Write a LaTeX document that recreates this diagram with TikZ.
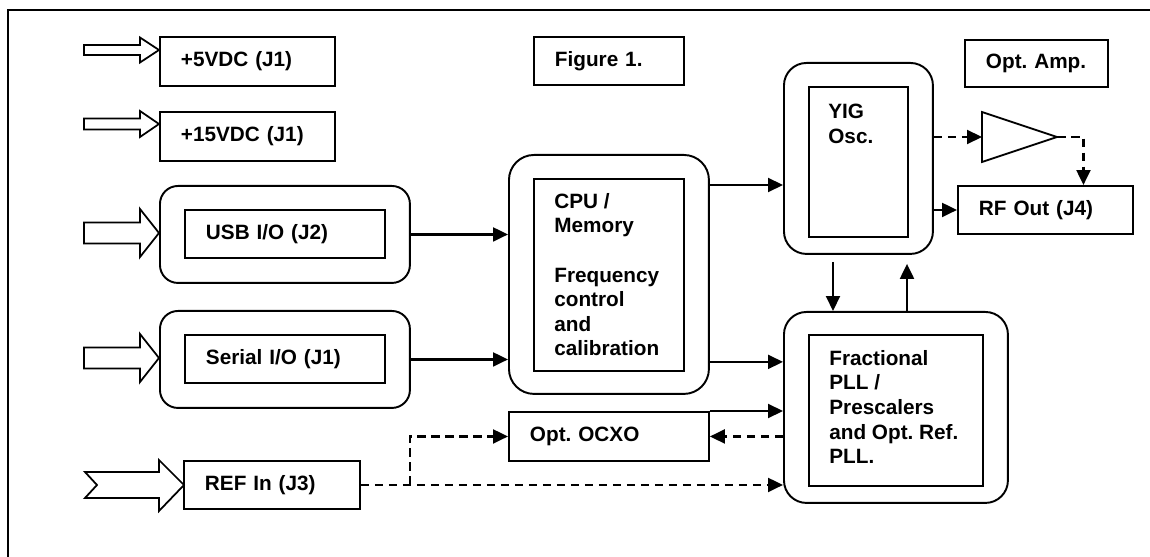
\documentclass[tikz,border=0pt]{standalone}
\usepackage{fontspec}
\setmainfont{Liberation Sans}
\usetikzlibrary{arrows.meta}

\begin{document}
\frenchspacing
\begin{tikzpicture}[x=0.02cm,y=-0.02cm,
  every node/.style={font=\fontsize{11.8}{14}\selectfont\bfseries},
  >={Triangle[length=0.3cm,width=0.28cm]},
  box/.style={draw,line width=1.1pt,anchor=north west,inner xsep=0.42cm,inner ysep=0pt,align=left},
  ibox/.style={draw,line width=1.1pt,anchor=north west,inner sep=0pt},
  rbox/.style={ibox,rounded corners=#1},
  lbl/.style={anchor=north west,inner sep=0pt,align=left},
  con/.style={line width=1.2pt,->},
  dsh/.style={con,dash pattern=on 0.17cm off 0.11cm},
  blk/.style={draw,line width=1pt,line join=miter}]
  \useasboundingbox (0,0) rectangle (1150,557);
  \draw[line width=1pt] (8,557) -- (8,10) -- (1150,10);
  % boxes
  \node[box,text width=2.66cm,minimum height=0.98cm] (n1) at (159,36) {+5VDC (J1)};
  \node[box,text width=2.66cm,minimum height=0.98cm] (n2) at (159,111) {+15VDC (J1)};
  \node[box,text width=2.16cm,minimum height=0.96cm] (n3) at (533,36) {Figure 1.};
  \node[box,text width=2.02cm,minimum height=0.94cm] (n4) at (964,39) {Opt. Amp.};
  \node[rbox=0.36cm,minimum width=5cm,minimum height=1.94cm] (n5) at (159,185) {};
  \node[box,text width=3.16cm,minimum height=0.96cm] (n51) at (184,209) {USB I/O (J2)};
  \node[rbox=0.36cm,minimum width=5cm,minimum height=1.94cm] (n6) at (159,310) {};
  \node[box,text width=3.16cm,minimum height=0.96cm] (n61) at (184,334) {Serial I/O (J1)};
  \node[box,text width=2.68cm,minimum height=0.96cm] (n7) at (183,460) {REF In (J3)};
  \node[box,text width=3.16cm,minimum height=0.98cm] (n8) at (508,411) {Opt. OCXO};
  \node[rbox=0.5cm,minimum width=4cm,minimum height=4.78cm] (n9) at (508,154) {};
  \node[ibox,minimum width=3cm,minimum height=3.84cm] (n91) at (533,178) {};
  \node[lbl] (n92) at (554,193) {CPU /\\Memory\\[14pt]Frequency\\control\\and\\calibration};
  \node[rbox=0.45cm,minimum width=2.98cm,minimum height=3.82cm] (n10) at (783,62) {};
  \node[ibox,minimum width=1.98cm,minimum height=3cm] (n101) at (808,86) {};
  \node[lbl] (n102) at (828,104) {YIG\\Osc.};
  \node[rbox=0.45cm,minimum width=4.48cm,minimum height=3.82cm] (n11) at (783,311) {};
  \node[ibox,minimum width=3.48cm,minimum height=3.02cm] (n111) at (808,334) {};
  \node[lbl] (n112) at (829,350) {Fractional\\PLL /\\Prescalers\\and Opt. Ref.\\PLL.};
  \node[box,text width=2.66cm,minimum height=0.96cm] (n12) at (957,185) {RF Out (J4)};
  % amplifier
  \coordinate (a1) at (982,137); \coordinate (a2) at (1057,137);
  \draw[blk] (982,112) -- (a2) -- (982,162) -- cycle;
  % input arrows
  \foreach \y/\b/\h in {50/5/12.5,124/5.5/13,233/10.5/24,358/10.5/24}
    \draw[blk] (84,\y-\b) -- (140,\y-\b) -- (140,\y-\h) -- (159,\y) -- (140,\y+\h)
      -- (140,\y+\b) -- (84,\y+\b) -- cycle;
  \draw[blk] (85,472) -- (159,472) -- (159,460) -- (184,485) -- (159,511) -- (159,498)
    -- (85,498) -- (97,485) -- cycle;
  % connectors
  \draw[con] (n5.east) -- (n5.east -| n9.west);
  \draw[con] (n6.east) -- (n6.east -| n9.west);
  \coordinate (c1) at ([shift={(0,31)}]n9.north east);
  \draw[con] (c1) -- (c1 -| n10.west);
  \coordinate (c2) at ([shift={(0,-33)}]n9.south east);
  \draw[con] (c2) -- (c2 -| n11.west);
  \draw[con] (n10.east |- n12.west) -- (n12.west);
  \coordinate (c3) at ([shift={(0,75)}]n10.north east);
  \draw[dsh] (c3) -- (a1);
  \coordinate (c4) at ([shift={(38,0)}]n12.north);
  \draw[dsh] (a2) -| (c4);
  \coordinate (c5) at ([shift={(50,7)}]n10.south west);
  \draw[con] (c5) -- (c5 |- n11.north);
  \coordinate (c6) at ([shift={(124,9)}]n10.south west);
  \draw[con] (c6 |- n11.north) -- (c6);
  \draw[con] (n8.north east) -- (n8.north east -| n11.west);
  \draw[dsh] (n11.west |- n8.east) -- (n8.east);
  \draw[dsh] (n7.east) -- (n7.east -| n11.west);
  \coordinate (c7) at ([shift={(49,0)}]n7.east);
  \draw[dsh] (c7) |- (n8.west);
\end{tikzpicture}
\end{document}
